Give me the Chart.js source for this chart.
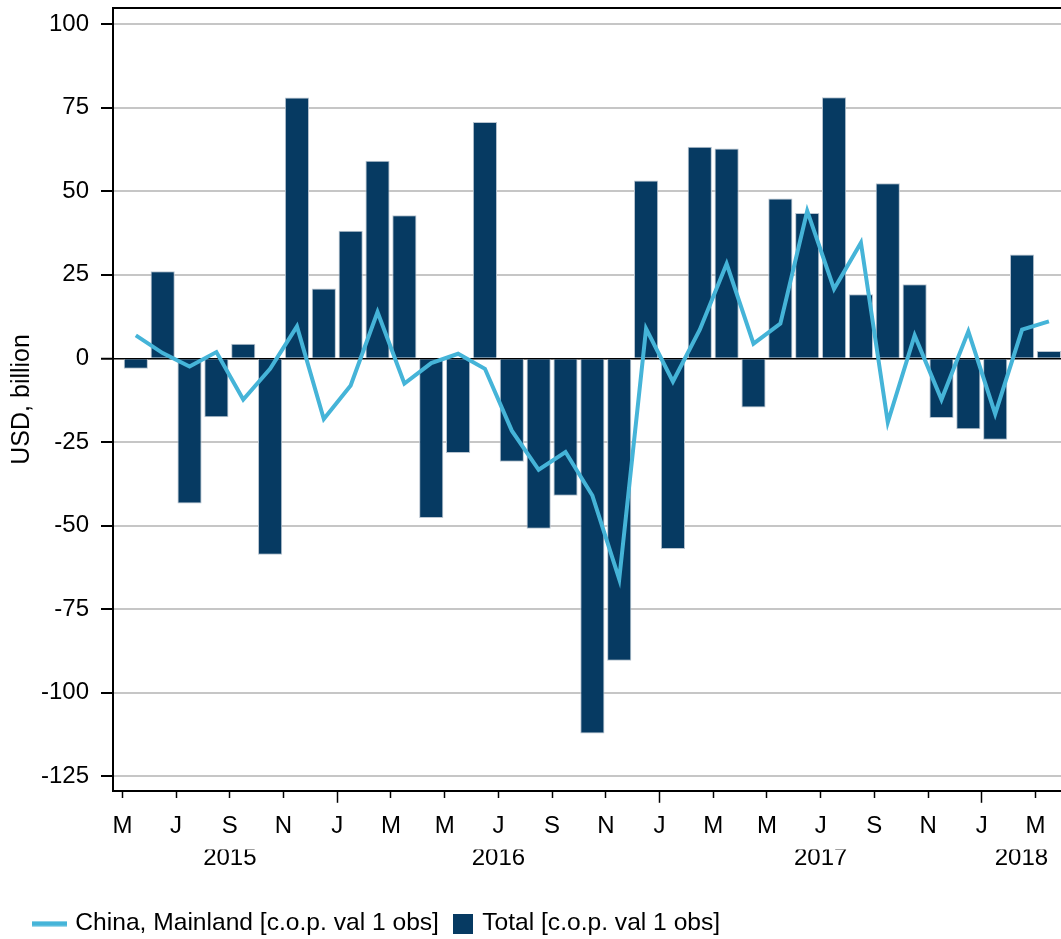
<!DOCTYPE html>
<html>
<head>
<meta charset="utf-8">
<script src="https://cdn.jsdelivr.net/npm/chart.js@4.4.1/dist/chart.umd.min.js"></script>
<style>
    html, body { margin: 0; padding: 0; background: #fff; }
</style>
</head>
<body>
<canvas id="flowsChart" width="1061" height="939"></canvas>
<script>
const months = [
    '2015-05', '2015-06', '2015-07', '2015-08', '2015-09', '2015-10', '2015-11', '2015-12',
    '2016-01', '2016-02', '2016-03', '2016-04', '2016-05', '2016-06', '2016-07', '2016-08',
    '2016-09', '2016-10', '2016-11', '2016-12', '2017-01', '2017-02', '2017-03', '2017-04',
    '2017-05', '2017-06', '2017-07', '2017-08', '2017-09', '2017-10', '2017-11', '2017-12',
    '2018-01', '2018-02', '2018-03'
]
const totalFlows = [
    -3.1, 26.1, -43.4, -17.6, 4.4, -58.7, 78.0, 20.9,
    38.2, 59.1, 42.8, -47.7, -28.3, 70.7, -30.9, -50.9,
    -41.1, -112.2, -90.4, 53.2, -57.0, 63.3, 62.8, -14.7,
    47.8, 43.5, 78.1, 19.2, 52.4, 22.2, -17.8, -21.2,
    -24.3, 31.1, 2.2
]
const chinaFlows = [
    6.9, 1.6, -2.4, 1.9, -12.3, -3.1, 9.6, -18.1,
    -8.1, 13.9, -7.5, -1.4, 1.4, -3.1, -21.6, -33.3,
    -28.0, -41.0, -66.0, 8.9, -6.9, 8.6, 28.3, 4.4,
    10.4, 44.1, 20.8, 34.6, -19.1, 6.9, -12.3, 8.1,
    -16.6, 8.6, 11.1
]
const seriesNames = ['China, Mainland [c.o.p. val 1 obs]', 'Total [c.o.p. val 1 obs]']
const yTitle = 'USD, billion'
const monthLetters = 'JFMAMJJASOND'

const NAVY = '#063a62'
const SKY = '#45b4d8'
const FONT = "'Liberation Sans', Arial, sans-serif"

const X_MIN = -0.35
const X_MAX = 34.95

// x ticks every second month, at the start of the month
const monthTickValues = months.map((m, i) => i).filter(i => i % 2 === 0)
const isJanuary = (v) => months[v] && months[v].endsWith('-01')

// year labels centred on the visible span of each year
const years = [...new Set(months.map(m => m.slice(0, 4)))]
const yearCenters = years.map(y => {
    const idx = months.map((m, i) => (m.startsWith(y) ? i : -1)).filter(i => i >= 0)
    const start = Math.max(idx[0], X_MIN)
    const end = Math.min(idx[idx.length - 1] + 1, X_MAX)
    return (start + end) / 2
})

// legend swatches
const lineSwatch = document.createElement('canvas')
lineSwatch.width = 44
lineSwatch.height = 6
let sctx = lineSwatch.getContext('2d')
sctx.fillStyle = SKY
sctx.fillRect(0, 0.5, 38, 5)

const boxSwatch = document.createElement('canvas')
boxSwatch.width = 30
boxSwatch.height = 20
sctx = boxSwatch.getContext('2d')
sctx.fillStyle = NAVY
sctx.fillRect(10, 0, 20, 20)

const noEdgePadding = (axis) => {
    axis.paddingLeft = 0
    axis.paddingRight = 0
    axis.paddingTop = 0
    axis.paddingBottom = 0
}

Chart.defaults.font.family = FONT
Chart.defaults.font.size = 24
Chart.defaults.color = '#000'

const ctx = document.getElementById('flowsChart').getContext('2d')
new Chart(ctx, {
    type: 'bar',
    data: {
        datasets: [
            {
                type: 'line',
                label: seriesNames[0],
                data: chinaFlows.map((v, i) => ({ x: i + 0.5, y: v })),
                borderColor: SKY,
                borderWidth: 4,
                pointRadius: 0,
                tension: 0,
                order: 0,
            },
            {
                type: 'bar',
                label: seriesNames[1],
                data: totalFlows.map((v, i) => ({ x: i + 0.5, y: v })),
                backgroundColor: NAVY,
                borderColor: '#b8c4d0',
                borderWidth: 1,
                barPercentage: 0.9,
                categoryPercentage: 1,
                order: 1,
            }
        ]
    },
    options: {
        responsive: false,
        animation: false,
        layout: {
            padding: { left: 32, top: 8, right: 0, bottom: -7 }
        },
        scales: {
            x: {
                type: 'linear',
                position: 'bottom',
                weight: 0,
                min: X_MIN,
                max: X_MAX,
                offset: false,
                afterBuildTicks: (axis) => {
                    axis.ticks = monthTickValues.map(v => ({ value: v }))
                },
                afterFit: noEdgePadding,
                ticks: {
                    autoSkip: false,
                    maxRotation: 0,
                    padding: 9,
                    callback: (value) => monthLetters[parseInt(months[value].slice(5), 10) - 1],
                },
                grid: {
                    offset: false,
                    drawOnChartArea: false,
                    drawTicks: true,
                    tickLength: 12,
                    tickColor: '#000',
                    tickWidth: 1.5,
                    tickBorderDash: (c) => (c.tick && isJanuary(c.tick.value) ? [] : [6, 40]),
                },
                border: { color: '#000', width: 2 },
            },
            years: {
                type: 'linear',
                position: 'bottom',
                weight: 1,
                axis: 'x',
                min: X_MIN,
                max: X_MAX,
                offset: false,
                afterBuildTicks: (axis) => {
                    axis.ticks = yearCenters.map(v => ({ value: v }))
                },
                afterFit: (axis) => {
                    noEdgePadding(axis)
                    axis.height += 38
                },
                ticks: {
                    autoSkip: false,
                    maxRotation: 0,
                    padding: -6,
                    callback: (value, index) => years[index],
                },
                grid: { display: false, drawTicks: false },
                border: { display: false },
            },
            frameTop: {
                type: 'linear',
                position: 'top',
                axis: 'x',
                min: X_MIN,
                max: X_MAX,
                ticks: { display: false },
                grid: { display: false, drawTicks: false },
                border: { color: '#000', width: 2 },
            },
            y: {
                type: 'linear',
                min: -129.3,
                max: 104.8,
                afterFit: (axis) => {
                    noEdgePadding(axis)
                    axis.width = 81
                },
                ticks: {
                    stepSize: 25,
                    includeBounds: false,
                    padding: 12,
                },
                grid: {
                    color: (c) => (c.tick && c.tick.value === 0 ? '#000' : '#c6c6c6'),
                    lineWidth: (c) => (c.tick && c.tick.value === 0 ? 1.5 : 2),
                    drawTicks: true,
                    tickLength: 12,
                    tickColor: '#000',
                    tickWidth: 2,
                },
                border: { color: '#000', width: 2 },
                title: {
                    display: true,
                    text: yTitle,
                    font: { size: 25 },
                    padding: { top: -25, bottom: 7 },
                },
            }
        },
        plugins: {
            tooltip: { enabled: false },
            legend: {
                position: 'bottom',
                align: 'start',
                labels: {
                    usePointStyle: true,
                    boxWidth: 24,
                    boxHeight: 20,
                    padding: 7,
                    font: { size: 24.6 },
                    generateLabels: (chart) => chart.data.datasets.map((ds, i) => ({
                        text: ds.label,
                        pointStyle: i === 0 ? lineSwatch : boxSwatch,
                        fillStyle: i === 0 ? SKY : NAVY,
                        strokeStyle: 'rgba(0,0,0,0)',
                        lineWidth: 0,
                        fontColor: '#000',
                        hidden: false,
                        datasetIndex: i,
                    })),
                },
            },
        },
    }
})
</script>
</body>
</html>
